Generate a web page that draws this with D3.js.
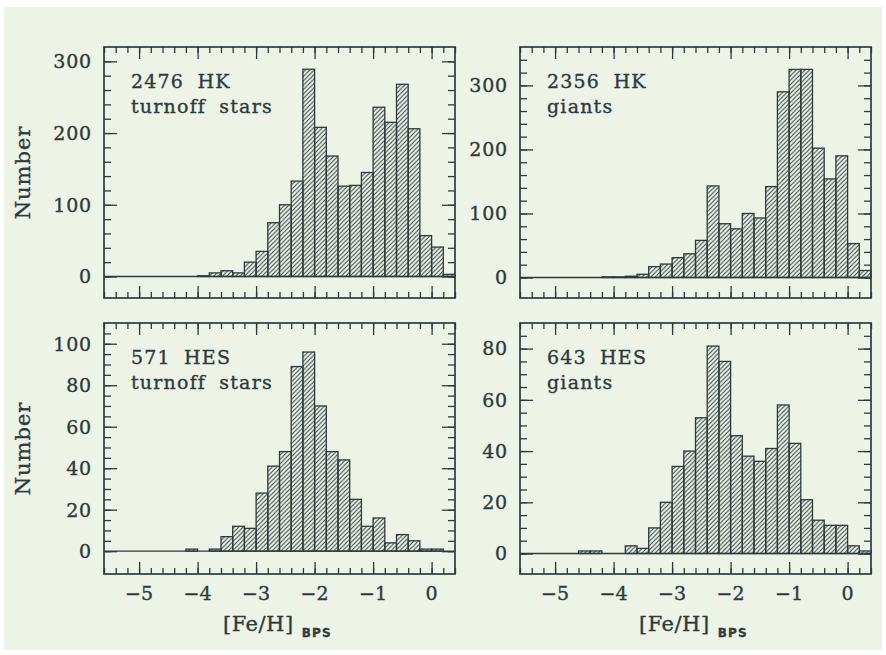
<!DOCTYPE html>
<html>
<head>
<meta charset="utf-8">
<script src="https://cdn.jsdelivr.net/npm/d3@7/dist/d3.min.js"></script>
<style>
  body { margin: 0; background: #fff; }
  svg text { font-family: "DejaVu Serif", serif; fill: #2e3a3d; stroke: #2e3a3d; stroke-width: 0.35px; }
</style>
</head>
<body>
<svg id="chart" width="886" height="655"></svg>
<script>
// left edges of the 0.2 dex [Fe/H] bins
const binLeft = [-5.6, -5.4, -5.2, -5.0, -4.8, -4.6, -4.4, -4.2, -4.0, -3.8,
                 -3.6, -3.4, -3.2, -3.0, -2.8, -2.6, -2.4, -2.2, -2.0, -1.8,
                 -1.6, -1.4, -1.2, -1.0, -0.8, -0.6, -0.4, -0.2, 0.0, 0.2];
const binWidth = 0.2;

// counts per bin
const hkTurnoff  = [0, 0, 0, 0, 0, 0, 0, 0, 1, 5, 8, 5, 20, 35, 75, 100, 133, 289, 208, 168,
                    126, 127, 145, 236, 215, 268, 206, 57, 41, 3];
const hkGiants   = [0, 0, 0, 0, 0, 0, 0, 1, 1, 2, 5, 17, 21, 31, 37, 58, 143, 84, 76, 100,
                    93, 142, 290, 325, 325, 202, 154, 190, 53, 11];
const hesTurnoff = [0, 0, 0, 0, 0, 0, 0, 1, 0, 1, 7, 12, 11, 28, 41, 48, 89, 96, 70, 48,
                    44, 25, 12, 16, 4, 8, 5, 1, 1, 0];
const hesGiants  = [0, 0, 0, 0, 0, 1, 1, 0, 0, 3, 2, 10, 20, 34, 40, 53, 81, 75, 46, 38,
                    36, 41, 58, 43, 21, 13, 11, 11, 3, 1];

const xTicks = [-5, -4, -3, -2, -1, 0];
const yTicksHK = [0, 100, 200, 300];
const yTicksHESTurnoff = [0, 20, 40, 60, 80, 100];
const yTicksHESGiants = [0, 20, 40, 60, 80];

const panels = [
  { counts: hkTurnoff,  yDomain: [-30, 320], yTicks: yTicksHK, yMinor: 20,
    label: ["2476 HK", "turnoff stars"], col: 0, row: 0 },
  { counts: hkGiants,   yDomain: [-32, 360], yTicks: yTicksHK, yMinor: 20,
    label: ["2356 HK", "giants"], col: 1, row: 0 },
  { counts: hesTurnoff, yDomain: [-11, 110], yTicks: yTicksHESTurnoff, yMinor: 5,
    label: ["571 HES", "turnoff stars"], col: 0, row: 1 },
  { counts: hesGiants,  yDomain: [-8, 90], yTicks: yTicksHESGiants, yMinor: 5,
    label: ["643 HES", "giants"], col: 1, row: 1 }
];

const ink = "#2e3a3d";
const colX = [104, 520], rowY = [47, 323];
const pw = 351, ph = 251;

const svg = d3.select("#chart");

svg.append("rect").attr("x", 4).attr("y", 7).attr("width", 878).attr("height", 643)
  .attr("fill", "#edf3e6");

// "/" hatching
svg.append("defs").append("pattern")
  .attr("id", "hatch")
  .attr("patternUnits", "userSpaceOnUse")
  .attr("width", 4.4).attr("height", 4.4)
  .append("path")
  .attr("d", "M-1,1 l2,-2 M0,4.4 l4.4,-4.4 M3.4,5.4 l2,-2")
  .attr("stroke", ink).attr("stroke-width", 1.0);

const x = d3.scaleLinear().domain([-5.6, 0.4]).range([0, pw]);
const xMinor = d3.range(-5.6, 0.41, 0.2).map(v => +v.toFixed(1));

panels.forEach(p => {
  const g = svg.append("g")
    .attr("transform", "translate(" + colX[p.col] + "," + rowY[p.row] + ")");
  const y = d3.scaleLinear().domain(p.yDomain).range([ph, 0]);
  const yMinor = d3.range(0, p.yDomain[1], p.yMinor);

  // zero line
  g.append("line")
    .attr("x1", 0).attr("x2", pw).attr("y1", y(0)).attr("y2", y(0))
    .attr("stroke", ink).attr("stroke-width", 1.3);

  const bins = binLeft.map((b, i) => ({ x0: b, n: p.counts[i] })).filter(d => d.n > 0);
  g.selectAll("rect.bar")
    .data(bins)
    .enter().append("rect")
    .attr("class", "bar")
    .attr("x", d => x(d.x0))
    .attr("width", d => x(d.x0 + binWidth) - x(d.x0))
    .attr("y", d => y(d.n))
    .attr("height", d => y(0) - y(d.n))
    .attr("fill", "url(#hatch)")
    .attr("stroke", ink)
    .attr("stroke-width", 1.3);

  // inward ticks on all four sides
  const tickAxes = [
    [d3.axisBottom(x), "translate(0," + ph + ")", xMinor, xTicks, 6, 12],
    [d3.axisTop(x), "translate(0,0)", xMinor, xTicks, 6, 12],
    [d3.axisLeft(y), "translate(0,0)", yMinor, p.yTicks, 7, 13],
    [d3.axisRight(y), "translate(" + pw + ",0)", yMinor, p.yTicks, 7, 13]
  ];
  tickAxes.forEach(([ax, tr, minor, major, sMin, sMaj]) => {
    const a1 = g.append("g").attr("transform", tr)
      .call(ax.tickValues(minor).tickSize(-sMin).tickFormat(""));
    a1.select(".domain").remove();
    a1.selectAll("line").attr("stroke", ink).attr("stroke-width", 1.3);
    const a2 = g.append("g").attr("transform", tr)
      .call(ax.tickValues(major).tickSize(-sMaj).tickFormat(""));
    a2.select(".domain").remove();
    a2.selectAll("line").attr("stroke", ink).attr("stroke-width", 1.3);
  });

  // frame
  g.append("rect").attr("width", pw).attr("height", ph)
    .attr("fill", "none").attr("stroke", ink).attr("stroke-width", 1.7);

  // y tick labels
  g.selectAll("text.ylab")
    .data(p.yTicks)
    .enter().append("text")
    .attr("class", "ylab")
    .attr("x", -12)
    .attr("y", d => y(d))
    .attr("dy", "0.36em")
    .attr("text-anchor", "end")
    .style("font-size", "19px")
    .style("letter-spacing", "0.8px")
    .text(d => d);

  // x tick labels on the bottom row
  if (p.row === 1) {
    g.selectAll("text.xlab")
      .data(xTicks)
      .enter().append("text")
      .attr("class", "xlab")
      .attr("x", d => x(d))
      .attr("y", ph + 26)
      .attr("text-anchor", "middle")
      .style("font-size", "19px")
      .text(d => d < 0 ? "\u2212" + Math.abs(d) : d);

    const t = g.append("text")
      .attr("x", 119).attr("y", ph + 57)
      .style("font-size", "21px")
      .style("letter-spacing", "0.5px");
    t.append("tspan").text("[Fe/H]");
    t.append("tspan")
      .attr("dx", 8).attr("dy", 6)
      .style("font-family", "'DejaVu Sans', sans-serif")
      .style("font-weight", "bold")
      .style("font-size", "12px")
      .style("letter-spacing", "1.2px")
      .text("BPS");
  }

  if (p.col === 0) {
    g.append("text")
      .attr("transform", "translate(-74," + (ph / 2) + ") rotate(-90)")
      .attr("text-anchor", "middle")
      .style("font-size", "21px")
      .style("letter-spacing", "1px")
      .text("Number");
  }

  // sample annotation
  g.selectAll("text.note")
    .data(p.label)
    .enter().append("text")
    .attr("class", "note")
    .attr("x", 27)
    .attr("y", (d, i) => 41 + i * 25)
    .style("font-size", "19px")
    .style("letter-spacing", "1.2px")
    .style("word-spacing", "6px")
    .text(d => d);
});
</script>
</body>
</html>
